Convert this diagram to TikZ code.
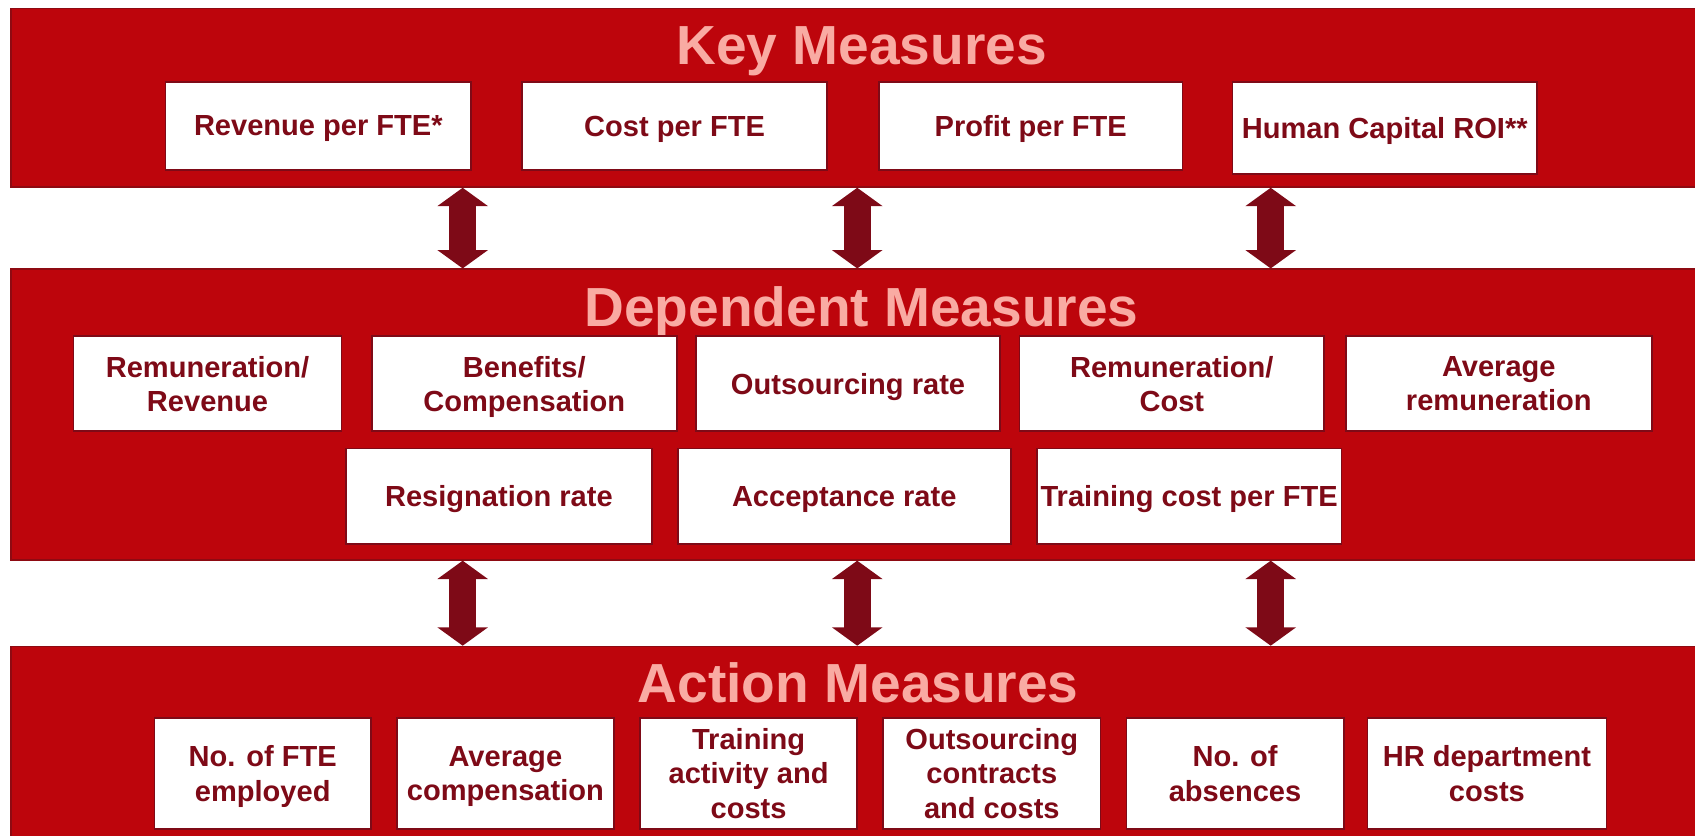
\documentclass[tikz,border=0pt]{standalone}
\usepackage{fontspec}
\setmainfont{Liberation Sans}
\usetikzlibrary{positioning, arrows.meta}
\definecolor{bandred}{HTML}{BD050C}
\definecolor{bandedge}{HTML}{8E0A12}
\definecolor{wine}{HTML}{7E0A17}
\definecolor{blush}{HTML}{F9ABA3}

\tikzset{
  band/.style={fill=bandred, draw=bandedge, line width=0.8pt, inner sep=0pt},
  bandtitle/.style={text=blush, inner sep=0pt, anchor=base,
    font=\fontsize{29}{34}\selectfont\bfseries},
  measure/.style={draw=wine, fill=white, line width=0.9pt, text=wine,
    align=center, inner sep=0pt, text depth=0pt,
    font=\fontsize{15.3}{18}\selectfont\bfseries},
  updown/.style={wine, line width=0.5cm,
    {Triangle[width=0.92cm,length=0.34cm]}-{Triangle[width=0.92cm,length=0.34cm]}}
}

\begin{document}
\begin{tikzpicture}[x=0.02cm, y=-0.02cm]
  \useasboundingbox (0,0) rectangle (1568,773);
  \clip (0,0) rectangle (1568,773);

  % the three layers
  \node[band, minimum width=31.3cm, minimum height=3.3cm] (key) at (792.5,90.5) {};
  \node[band, minimum width=31.3cm, minimum height=5.38cm] (dep) at (792.5,383.5) {};
  \node[band, minimum width=31.3cm, minimum height=3.84cm] (act) at (792.5,694) {};

  \node[bandtitle] (keytitle) at (797,60) {Key Measures};
  \node[bandtitle] (deptitle) at (797,302) {Dependent Measures};
  \node[bandtitle] (acttitle) at (794,650) {Action Measures};

  % key measures
  \node[measure, minimum width=5.66cm, minimum height=1.62cm] (rev) at (294.5,116.5) {Revenue per FTE*};
  \node[measure, minimum width=5.64cm, minimum height=1.62cm] (cost) at (624,116.5) {Cost per FTE};
  \node[measure, minimum width=5.62cm, minimum height=1.62cm] (profit) at (953.5,116.5) {Profit per FTE};
  \node[measure, minimum width=5.64cm, minimum height=1.70cm] (roi) at (1281,118.5) {Human Capital ROI**};

  % dependent measures
  \node[measure, minimum width=4.96cm, minimum height=1.76cm] (remrev) at (192,355) {Remuneration/\\Revenue};
  \node[measure, minimum width=5.64cm, minimum height=1.76cm] (bencomp) at (485,355) {Benefits/\\Compensation};
  \node[measure, minimum width=5.62cm, minimum height=1.76cm] (outrate) at (784.5,355) {Outsourcing rate};
  \node[measure, minimum width=5.64cm, minimum height=1.76cm] (remcost) at (1084,355) {Remuneration/\\Cost};
  \node[measure, minimum width=5.66cm, minimum height=1.76cm] (avgrem) at (1386.5,355) {Average\\remuneration};
  \node[measure, minimum width=5.66cm, minimum height=1.76cm] (resign) at (461.5,459) {Resignation rate};
  \node[measure, minimum width=6.16cm, minimum height=1.76cm] (accept) at (781,459) {Acceptance rate};
  \node[measure, minimum width=5.64cm, minimum height=1.76cm] (traincost) at (1100,459) {Training cost per FTE};

  % action measures
  \node[measure, minimum width=4.00cm, minimum height=2.06cm] (fte) at (243,715.5) {No. of FTE\\employed};
  \node[measure, minimum width=4.02cm, minimum height=2.06cm] (avgcomp) at (467.5,715.5) {Average\\compensation};
  \node[measure, minimum width=4.02cm, minimum height=2.06cm] (training) at (692.5,715.5) {Training\\activity and\\costs};
  \node[measure, minimum width=4.02cm, minimum height=2.06cm] (outsrc) at (917.5,715.5) {Outsourcing\\contracts\\and costs};
  \node[measure, minimum width=4.02cm, minimum height=2.06cm] (absence) at (1142.5,715.5) {No. of\\absences};
  \node[measure, minimum width=4.42cm, minimum height=2.06cm] (hrcost) at (1375.5,715.5) {HR department\\costs};

  % links between layers
  \coordinate (a1) at (428,0);
  \coordinate (a2) at (793,0);
  \coordinate (a3) at (1175.5,0);
  \foreach \c in {a1,a2,a3} {
    \draw[updown] (key.south -| \c) -- (dep.north -| \c);
    \draw[updown] (dep.south -| \c) -- (act.north -| \c);
  }
\end{tikzpicture}
\end{document}
